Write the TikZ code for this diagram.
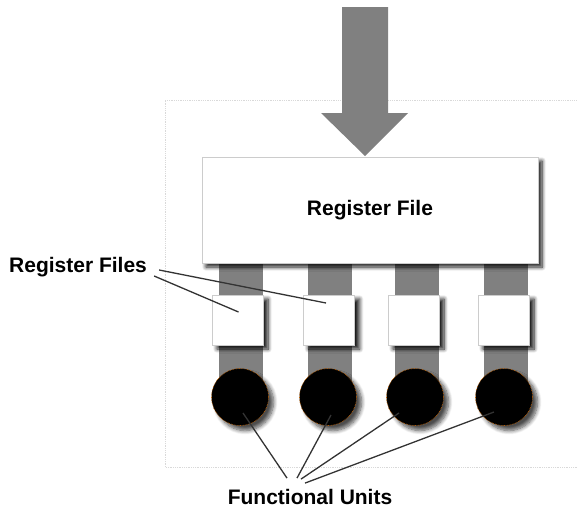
\documentclass[tikz,border=0pt]{standalone}
\usepackage{fontspec}
\newfontfamily\labelfont{Liberation Sans}
\usetikzlibrary{shadows.blur}

\tikzset{
	regbig/.style={rectangle, fill=white, draw=black!20, line width=0.6pt, minimum width=336pt, minimum height=106pt, inner sep=0pt, blur shadow={shadow xshift=4pt, shadow yshift=-4pt, shadow blur radius=4pt, shadow blur steps=8, shadow opacity=90}},
	regsmall/.style={rectangle, fill=white, draw=black!20, line width=0.6pt, minimum width=51pt, minimum height=50pt, inner sep=0pt, blur shadow={shadow xshift=5pt, shadow yshift=-4pt, shadow blur radius=4pt, shadow blur steps=8, shadow opacity=90}},
	funit/.style={circle, fill=black, draw=orange!80!black, densely dotted, line width=0.6pt, minimum size=57pt, inner sep=0pt, blur shadow={shadow xshift=5pt, shadow yshift=-5pt, shadow blur radius=4pt, shadow blur steps=8, shadow opacity=70}},
	bar/.style={fill=black!50, draw=none},
	pointer/.style={line width=1.3pt, color=black!80},
	lbl/.style={inner sep=0pt, font=\labelfont\bfseries\fontsize{21}{24}\selectfont}
}

\begin{document}
\begin{tikzpicture}[x=1pt, y=-1pt]
			%%%%% START %%%%%
			\useasboundingbox (0, 0) rectangle (577, 517);
			
			% frame
			\draw[line width=0.8pt, color=black!15, densely dotted] (580, 100) -- (165, 100) -- (165, 467) -- (580, 467);
			
			% input arrow
			\fill[black!50] (342, 7) -- (388, 7) -- (388, 113) -- (408, 113) -- (365, 156) -- (321, 113) -- (342, 113) -- cycle;
			
			% data paths
			\fill[bar] (219, 255) rectangle (263, 397);
			\fill[bar] (308, 255) rectangle (352, 397);
			\fill[bar] (395, 255) rectangle (439, 397);
			\fill[bar] (484, 255) rectangle (528, 397);
			
			\node[regbig, lbl] (rf) at (370, 210) {Register File};
			
			\node[regsmall] (rf1) at (237.5, 320) {};
			\node[regsmall] (rf2) at (329, 320) {};
			\node[regsmall] (rf3) at (413.5, 320) {};
			\node[regsmall] (rf4) at (503.5, 320) {};
			
			\node[funit] (fu1) at (240, 397) {};
			\node[funit] (fu2) at (328, 397) {};
			\node[funit] (fu3) at (415, 397) {};
			\node[funit] (fu4) at (504, 397) {};
			
			% labels
			\node[lbl, anchor=west] (rfl) at (9, 267) {Register Files};
			\node[lbl] (ful) at (310, 497) {Functional Units};
			
			\draw[pointer] ([xshift=12pt, yshift=-3pt]rfl.east) -- ([xshift=-3pt, yshift=17pt]rf2.center);
			\draw[pointer] ([xshift=7pt, yshift=-9pt]rfl.east) -- ([xshift=1pt, yshift=8pt]rf1.center);
			
			\draw[pointer] ([xshift=3pt, yshift=-16pt]fu1.center) -- ([xshift=-23pt, yshift=11pt]ful.north);
			\draw[pointer] ([xshift=3pt, yshift=-18pt]fu2.center) -- ([xshift=-13pt, yshift=11pt]ful.north);
			\draw[pointer] ([xshift=-16pt, yshift=-16pt]fu3.center) -- ([xshift=-9pt, yshift=10pt]ful.north);
			\draw[pointer] ([xshift=-10pt, yshift=-15pt]fu4.center) -- ([xshift=-5pt, yshift=6pt]ful.north);
			
			%%%%% END %%%%%
\end{tikzpicture}
\end{document}
